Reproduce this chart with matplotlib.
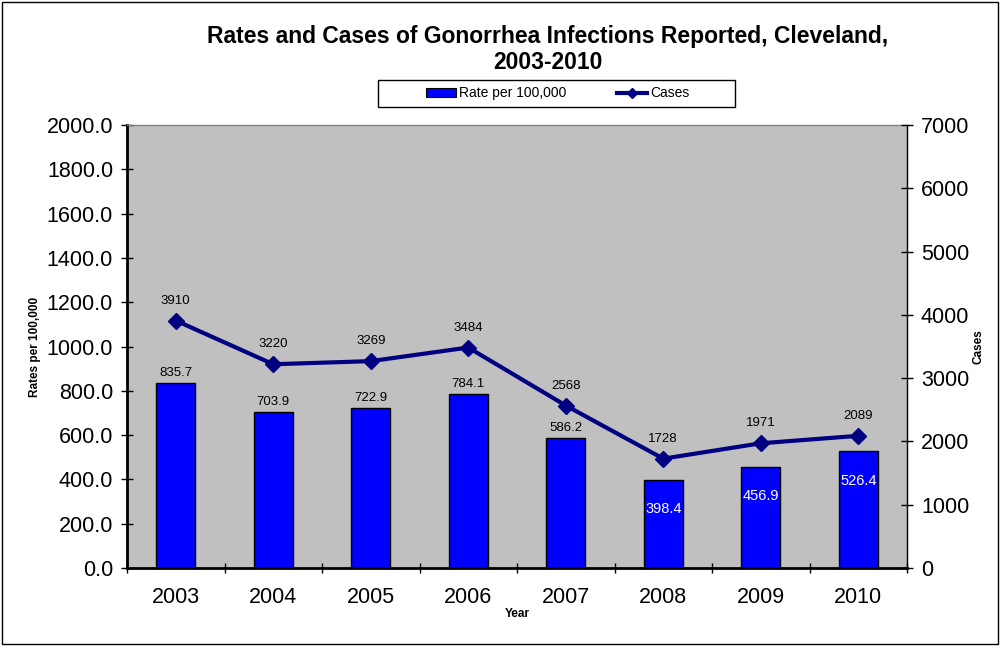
import matplotlib
matplotlib.use("Agg")
import matplotlib.pyplot as plt
from matplotlib.patches import Rectangle
from matplotlib.lines import Line2D
from matplotlib.patches import Patch
import numpy as np

plt.rcParams['font.family'] = ['Liberation Sans', 'DejaVu Sans']

years = ['2003', '2004', '2005', '2006', '2007', '2008', '2009', '2010']
rates = [835.7, 703.9, 722.9, 784.1, 586.2, 398.4, 456.9, 526.4]
cases = [3910, 3220, 3269, 3484, 2568, 1728, 1971, 2089]
inside_label = [False, False, False, False, False, True, True, True]

fig = plt.figure(figsize=(10, 6.46), dpi=100)
fig.patches.append(Rectangle((0.002, 0.003), 0.996, 0.994, transform=fig.transFigure,
                             fill=False, edgecolor='black', linewidth=1.0))

ax = fig.add_axes([0.127, 0.1207, 0.780, 0.6858])
ax.set_facecolor('#C0C0C0')
x = np.arange(len(years))
bars = ax.bar(x, rates, width=0.4, color='#0000FF', edgecolor='black', linewidth=1.0, zorder=2)
ax.set_xlim(-0.5, len(years) - 0.5)
ax.set_ylim(0, 2000)
ax.set_yticks(np.arange(0, 2001, 200))
ax.set_yticklabels([f"{v:.1f}" for v in np.arange(0, 2001, 200)], fontsize=15.5)
ax.set_xticks(x)
ax.set_xticklabels(years, fontsize=15.5)
ax.set_xticks(np.arange(-0.5, len(years), 1.0), minor=True)
ax.tick_params(axis='x', which='major', length=0, pad=14)
ax.tick_params(axis='x', which='minor', length=7, direction='inout', width=1)
ax.tick_params(axis='y', length=8, direction='inout', width=1, pad=6)
ax.spines['left'].set_linewidth(2)
ax.spines['bottom'].set_linewidth(2)
ax.spines['top'].set_color('#808080')
ax.spines['top'].set_linewidth(1)
ax.spines['right'].set_visible(False)

for xi, r, ins in zip(x, rates, inside_label):
    if ins:
        ax.annotate(f"{r:.1f}", (xi, r), xytext=(0, -21), textcoords='offset points',
                    ha='center', va='center', color='white', fontsize=10.5, zorder=5)
    else:
        ax.text(xi, r + 18, f"{r:.1f}", ha='center', va='bottom', color='black', fontsize=9.5, zorder=5)

ax.set_ylabel('Rates per 100,000', fontsize=8.5, fontweight='bold', labelpad=4)
ax.set_xlabel('Year', fontsize=8.5, fontweight='bold', labelpad=0)

ax2 = ax.twinx()
ax2.plot(x, cases, color='#000080', linewidth=3, marker='D', markersize=8, zorder=3)
ax2.set_ylim(0, 7000)
ax2.set_yticks(np.arange(0, 7001, 1000))
ax2.set_yticklabels([str(v) for v in range(0, 7001, 1000)], fontsize=15.5)
ax2.tick_params(axis='y', length=8, direction='inout', width=1, pad=6)
for s in ['left', 'top', 'bottom']:
    ax2.spines[s].set_visible(False)
ax2.spines['right'].set_linewidth(1)
for xi, c in zip(x, cases):
    ax2.text(xi, c + 220, f"{c}", ha='center', va='bottom', color='black', fontsize=9.5)
ax2.set_ylabel('Cases', fontsize=8.5, fontweight='bold', labelpad=2)

fig.text(0.548, 0.943, 'Rates and Cases of Gonorrhea Infections Reported, Cleveland,',
         ha='center', va='center', fontsize=16.5, fontweight='bold')
fig.text(0.548, 0.903, '2003-2010', ha='center', va='center', fontsize=16.5, fontweight='bold')

fig.patches.append(Rectangle((0.378, 1 - 107 / 646), 0.357, 27 / 646, transform=fig.transFigure,
                             fill=True, facecolor='white', edgecolor='black', linewidth=1.0))
handles = [Patch(facecolor='#0000FF', edgecolor='black', linewidth=0.8),
           Line2D([0], [0], color='#000080', linewidth=3, marker='D', markersize=5)]
leg = fig.legend(handles, ['Rate per 100,000', 'Cases'], loc='center',
                 bbox_to_anchor=(0.5575, 0.8553), ncol=2, frameon=False, fontsize=10,
                 handlelength=2.2, handletextpad=0.2,
                 columnspacing=3.6, borderpad=0.2, borderaxespad=0)

fig.savefig('out.png', dpi=100)
